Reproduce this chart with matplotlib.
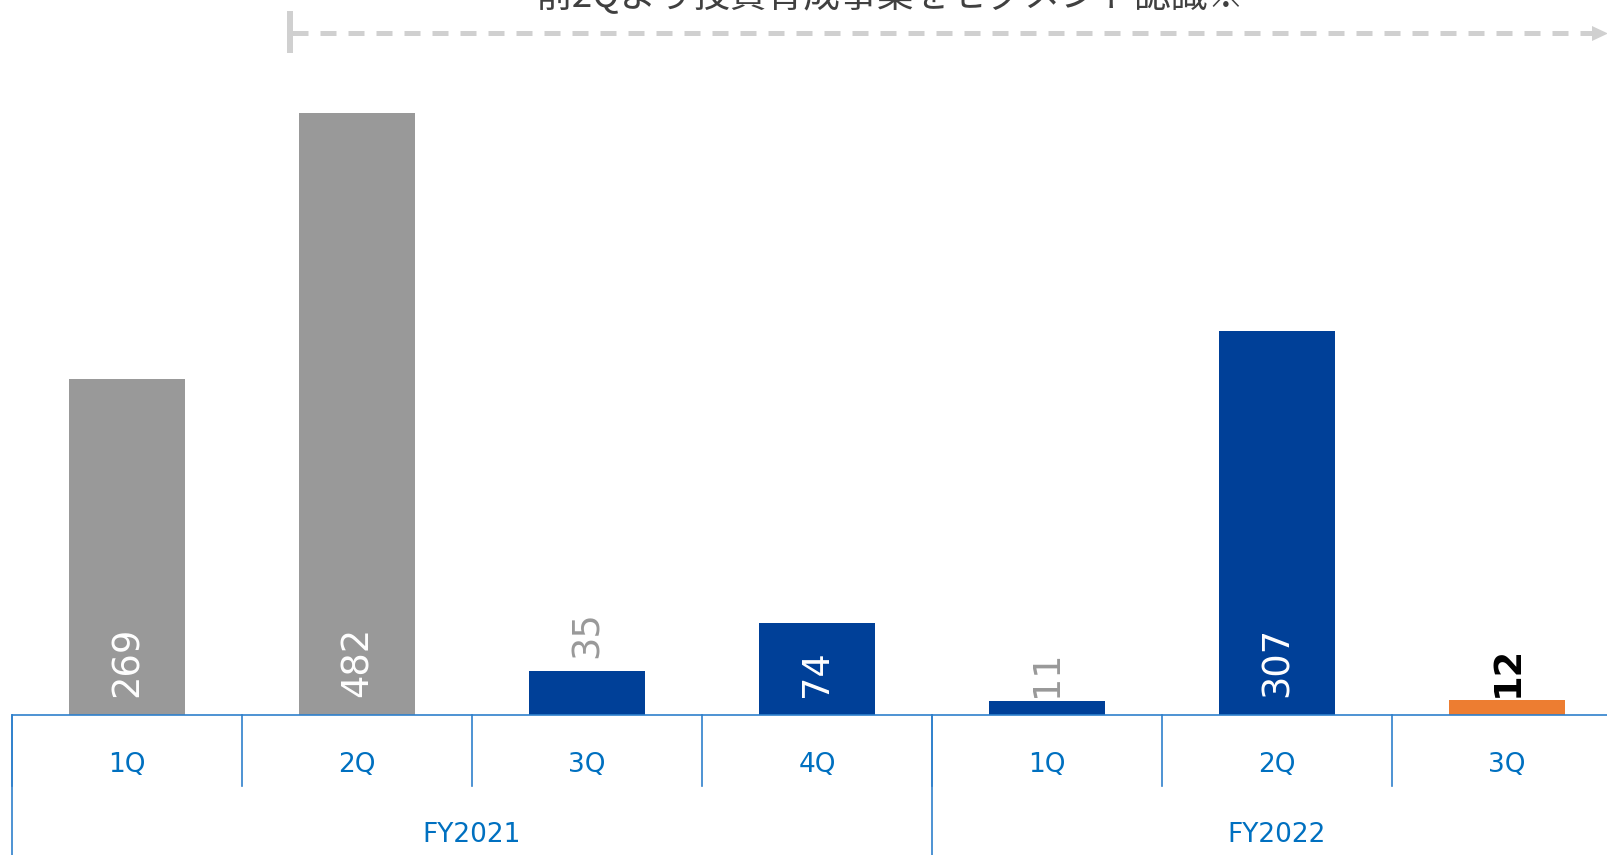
import matplotlib.pyplot as plt
from matplotlib.patches import Polygon

plt.rcParams['font.family'] = ['DejaVu Sans', 'Noto Sans CJK JP']

# データ
quarters = ["1Q", "2Q", "3Q", "4Q", "1Q", "2Q", "3Q"]
years = ["FY2021", "FY2022"]
year_spans = [(0, 3), (4, 6)]
values = [269, 482, 35, 74, 11, 307, 12]
bar_colors = ["#999999", "#999999", "#004098", "#004098", "#004098", "#004098", "#ED7D31"]
label_inside = [True, True, False, True, False, True, False]
label_colors = ["white", "white", "#999999", "white", "#999999", "white", "black"]
label_bold = [False, False, False, False, False, False, True]
note_text = "前2Qより投資育成事業をセグメント認識※"

W, H = 1608, 855
fig = plt.figure(figsize=(W / 100, H / 100), dpi=100)

# メイン軸: 1単位 = 1.25px, 基準線は下から140px
px_per_unit = 1.25
ax = fig.add_axes([12 / W, 0, 1610 / W, 1])
ax.set_xlim(-0.5, len(values) - 0.5)
ax.set_ylim(-140 / px_per_unit, (H - 140) / px_per_unit)
ax.axis("off")

x = list(range(len(values)))
ax.bar(x, values, width=0.505, color=bar_colors, zorder=2)

line_c = "#2F80CC"
tick_c = "#0070C0"
lo = -140 / px_per_unit

# 基準線と区切り線
ax.axhline(0, color=line_c, lw=1.2, zorder=3)
for i in range(len(values)):
    ax.plot([i - 0.5, i - 0.5], [0, -71 / px_per_unit], color=line_c, lw=1.2, clip_on=False)
for s, e in year_spans:
    ax.plot([s - 0.5, s - 0.5], [0, lo], color=line_c, lw=1.2, clip_on=False)

# カテゴリラベル
for i, q in enumerate(quarters):
    ax.text(i, -50 / px_per_unit, q, ha="center", va="center", fontsize=19, color=tick_c)
for (s, e), yr in zip(year_spans, years):
    ax.text((s + e) / 2, -120 / px_per_unit, yr, ha="center", va="center", fontsize=19, color=tick_c)

# 値ラベル
base_y = 18 / px_per_unit
for i, v in enumerate(values):
    if label_inside[i]:
        y = base_y
    else:
        y = v + 11 if v >= 20 else base_y
    ax.text(i, y, str(v), rotation=90, ha="center", va="bottom", fontsize=26.5,
            color=label_colors[i], fontweight="bold" if label_bold[i] else "normal", zorder=4)

# 上部の注記と矢印 (ピクセル座標)
ov = fig.add_axes([0, 0, 1, 1])
ov.set_xlim(0, W)
ov.set_ylim(H, 0)
ov.axis("off")
ov.patch.set_alpha(0)

arrow_c = "#D0D0D0"
ov.plot([290, 290], [11, 53], color=arrow_c, lw=4.3, solid_capstyle="butt")
ov.plot([292, 1592], [33.5, 33.5], color=arrow_c, lw=3.6, linestyle=(0, (3.2, 2.4)),
        dash_capstyle="butt")
ov.add_patch(Polygon([[1592, 26], [1608, 33.5], [1592, 41]], closed=True, color=arrow_c, lw=0))

ov.text(890, 15, note_text, ha="center", va="bottom", fontsize=26.5, color="#404040",
        family=["Noto Sans CJK JP", "DejaVu Sans"])

fig.savefig("out.png", dpi=100)
